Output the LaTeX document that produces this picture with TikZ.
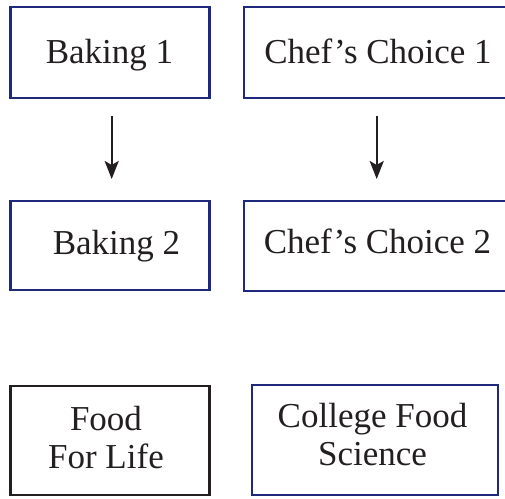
\documentclass[tikz,border=0pt]{standalone}
\usepackage{fontspec}
\setmainfont{Liberation Serif}
\usetikzlibrary{arrows.meta}
\definecolor{navy}{RGB}{30,40,125}
\definecolor{ink}{RGB}{35,31,32}
\begin{document}
\begin{tikzpicture}[x=1pt,y=-1pt,
  box/.style={draw=navy,line width=2.6pt,inner sep=0pt,outer sep=0pt},
  blackbox/.style={box,draw=ink},
  lbl/.style={font=\fontsize{35}{38}\selectfont,text=ink,inner sep=0pt,anchor=base,align=center},
  arr/.style={draw=ink,line width=2.4pt,-{Stealth[length=18pt,width=14pt,inset=4pt]}}]
\clip (0,0) rectangle (505,498);
\node[box,minimum width=199pt,minimum height=91pt] (b1) at (110,52.5) {};
\node[box,minimum width=269pt,minimum height=91pt] (c1) at (378.5,52.5) {};
\node[box,minimum width=199pt,minimum height=89pt] (b2) at (110,245.5) {};
\node[box,minimum width=269pt,minimum height=90pt] (c2) at (378.5,246) {};
\node[blackbox,minimum width=199pt,minimum height=109pt] (f) at (110,440.5) {};
\node[box,minimum width=246pt,minimum height=110pt] (cf) at (375,440) {};
\node[lbl] (tb1) at (109.5,63) {Baking 1};
\node[lbl] (tc1) at (378,63) {Chef’s Choice 1};
\node[lbl] (tb2) at (116.5,254) {Baking 2};
\node[lbl] (tc2) at (377.5,253) {Chef’s Choice 2};
\node[lbl] (tf) at (106,468) {Food\\For Life};
\node[lbl] (tcf) at (372.5,465) {College Food\\Science};
\draw[arr] ([xshift=1.7pt,yshift=-18pt]b1.south) -- ([xshift=1.7pt,yshift=22pt]b2.north);
\draw[arr] ([xshift=-1.8pt,yshift=-18pt]c1.south) -- ([xshift=-1.8pt,yshift=22pt]c2.north);
\end{tikzpicture}
\end{document}
